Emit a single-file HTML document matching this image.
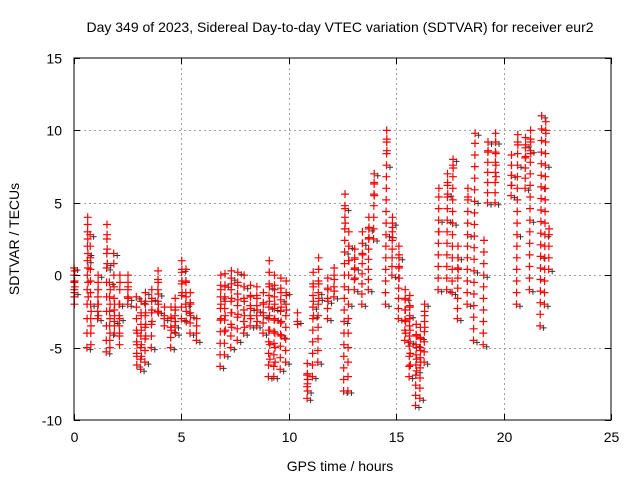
<!DOCTYPE html>
<html><head><meta charset="utf-8"><style>
body{margin:0;background:#fff}
svg text{font-family:"Liberation Sans",sans-serif;font-size:14px;fill:#000}
</style></head><body>
<svg id="chart" width="640" height="480" xmlns="http://www.w3.org/2000/svg">
<g id="grid"></g>
<g id="pts"></g>
<rect x="74" y="58" width="537" height="362" fill="none" stroke="#000" stroke-width="1"/>
<g id="axes"></g>
<text x="340" y="32" text-anchor="middle">Day 349 of 2023, Sidereal Day-to-day VTEC variation (SDTVAR) for receiver eur2</text>
<text x="340" y="471" text-anchor="middle">GPS time / hours</text>
<text transform="translate(19,239) rotate(-90)" text-anchor="middle">SDTVAR / TECUs</text>
</svg>
<script>
const xTicks=[0,5,10,15,20,25];
const yTicks=[-10,-5,0,5,10,15];
const groupStart=[0.0,0.6,0.75,1.1,1.5,1.65,1.85,2.1,2.5,2.9,3.1,3.3,3.6,3.9,4.2,4.5,4.7,5.0,5.2,5.4,5.7,6.8,7.0,7.3,7.6,7.9,8.2,8.5,8.8,9.05,9.3,9.6,9.85,10.4,10.85,11.1,11.35,11.8,12.1,12.55,12.75,13.05,13.4,13.7,13.95,14.5,14.8,15.1,15.4,15.6,15.9,16.1,16.3,16.95,17.35,17.6,17.85,18.3,18.6,19.05,19.25,19.6,20.35,20.6,21.0,21.2,21.7,21.9,22.1,22.75];
const groupValues=[
[0.5,0,-0.5,-1,-1.5,-2,-1.2,-0.4,0.3,-0.8],
[-5,-4,-3,-2,-1,0,1,2,3,4,3.5,2.5,1.5,0.5,-0.5,-1.5],
[2.8,2,1.2,0.4,-0.4,-1.2,-2,-3,-4,-4.8,-3.5,-2.5],
[-3,-2.5,-2,-1.5,-1,-0.5,0,-1,-2,-2.8],
[-5.3,-4.5,-3.5,-2.5,-1.5,-0.5,0.5,1.5,2.5,3.5,2.8,1.8,0.8],
[-0.5,-1.5,-2.5,-3.5,-4.5,-5,-4,-3,-2,-1],
[1.5,0.8,0,-0.8,-1.6,-2.4,-3.2,-4,-3.5,-2.8,-2],
[-2,-2.8,-3.5,-4.2,-4.8,-4,-3,-2,-1,0,-0.5],
[-2,-1.5,-1,-0.5,0,-0.8,-1.6],
[-1.5,-2.2,-3,-3.8,-4.6,-5.4,-6.2,-5.6,-4.8,-4],
[-6.5,-5.8,-5,-4.2,-3.4,-2.6,-1.8,-2.8,-3.8,-4.8,-5.6],
[-6,-5.2,-4.4,-3.6,-2.8,-2,-1.2,-1.8,-2.6,-3.4,-4.2],
[-5,-4.2,-3.4,-2.6,-1.8,-1,-1.6,-2.4,-3.2],
[-2.5,-1.8,-1,-0.3,0.3,-0.5,-1.3,-2,-2.6],
[-3,-3.5,-2.8,-2.2],
[-5,-4.3,-3.6,-2.9,-2.2,-3,-3.8],
[-3.5,-2.8,-2.2,-1.6,-2.4,-3.2,-4],
[-3,-2.2,-1.4,-0.6,0.2,1,0.4,-0.4,-1.2],
[-2,-1.2,-0.4,0.4,-0.5,-1.5,-2.5,-3.2],
[-4,-3.3,-2.6,-1.9,-1.2,-2,-2.8],
[-4.5,-4,-3.5,-3],
[-6.3,-5.5,-4.7,-3.9,-3.1,-2.3,-1.5,-0.7,0,-1,-2,-3],
[-5.5,-4.7,-3.9,-3.1,-2.3,-1.5,-0.7,0.1,-0.8,-1.8,-2.8,-3.8],
[-5,-4.2,-3.4,-2.6,-1.8,-1,-0.2,0.3,-0.6,-1.6,-2.6,-3.6],
[-4.5,-3.7,-2.9,-2.1,-1.3,-0.5,0.2,-0.7,-1.7,-2.7],
[-4,-3.2,-2.4,-1.6,-0.8,0,-0.8,-1.8,-2.8,-3.6],
[-3.5,-2.8,-2.1,-1.4,-0.7,-1.5,-2.3,-3],
[-3.5,-2.8,-2.1,-1.4,-0.8,-1.6,-2.4,-3.2],
[-4,-3.3,-2.6,-1.9,-1.2,-2,-2.8],
[-7,-6.2,-5.4,-4.6,-3.8,-3,-2.2,-1.4,-0.6,0.2,1,0.2,-0.8,-1.8,-2.8,-3.8,-4.8,-5.8],
[-7,-6.3,-5.5,-4.7,-3.9,-3.1,-2.3,-1.5,-0.7,0,-1,-2,-3,-4,-5,-6],
[-6.5,-5.7,-4.9,-4.1,-3.3,-2.5,-1.7,-0.9,-0.2,-1.2,-2.2,-3.2,-4.2],
[-6,-5.2,-4.4,-3.6,-2.8,-2,-1.2,-0.4,-1.4,-2.4],
[-3.2,-2.6,-3.4],
[-8.5,-7.7,-6.9,-6.1,-6.8,-7.5,-8,-7.2],
[-7,-6.2,-5.4,-4.6,-3.8,-3,-2.2,-1.4,-0.6,0.2,-0.8,-1.8,-2.8],
[-6,-5.2,-4.4,-3.6,-2.8,-2,-1.2,-0.4,0.4,1.2,0.4,-0.6,-1.6],
[-3,-2.3,-1.6,-0.9,-0.2,-1,-1.8],
[-1.5,-0.8,0,0.5,-0.3,-1.1],
[-8,-7.2,-6.4,-5.6,-4.8,-4,-3.2,-2.4,-1.6,-0.8,0,0.8,1.6,2.4,3.2,4,4.8,5.6,4.6,3.6],
[-8,-7,-6,-5,-4,-3,-2,-1,0,1,2,3,2,1],
[-1,-0.3,0.4,1.1,1.8,1.2,0.5,-0.2],
[-2,-1.3,-0.6,0.1,0.8,1.5,2.2,3,2.2,1.4],
[-1,-0.3,0.4,1.1,1.8,2.5,3.2,4,3.3,2.6],
[2.5,3.2,4,4.8,5.6,6.4,7,6.3,5.5],
[-2,-1.2,-0.4,0.4,1.2,2,2.8,3.6,4.4,5.2,6,6.8,7.6,8.4,9.2,10,9.4,8.6],
[0,0.6,1.2,1.8,2.4,3,3.6,4,3.3,2.6],
[-3,-2.3,-1.6,-0.9,-0.2,0.5,1.2,2,1.4,0.6,-0.2],
[-4.5,-3.8,-3.1,-2.4,-1.7,-1,-1.6,-2.4,-3.2,-4],
[-7,-6.3,-5.6,-4.9,-4.2,-3.5,-2.8,-2.1,-1.4,-2.2,-3,-3.8,-4.6,-5.4,-6.2],
[-9,-8.3,-7.6,-6.9,-6.2,-5.5,-4.8,-4.1,-3.4,-4.2,-5,-5.8,-6.6],
[-8.5,-7.8,-7.1,-6.4,-5.7,-5,-4.3,-3.6,-4.4,-5.2,-6],
[-6,-5.3,-4.6,-3.9,-3.2,-2.5,-2,-2.8,-3.6],
[-1,-0.2,0.6,1.4,2.2,3,3.8,4.6,5.4,6,3],
[-1,-0.2,0.6,1.4,2.2,3,3.8,4.6,5.4,6.2,7,6.4,5.6],
[-1.2,-0.4,0.4,1.2,2,2.8,3.6,4.4,5.2,6,6.8,7.6,8,7.4],
[-3,-2.3,-1.6,-0.9,-0.2,0.5,1.2,2,1.2,0.4],
[-2,-1.2,-0.4,0.4,1.2,2,2.8,3.6,4.4,5.2,6,5.4],
[-4.5,-3.7,-2.9,-2.1,-1.3,-0.5,0.3,1.1,1.9,2.7,3.5,4.3,5.1,5.9,6.7,7.5,8.3,9.1,9.8],
[-4.8,-4,-3.2,-2.4,-1.6,-0.8,0,0.8,1.6,2.4],
[5,5.7,6.4,7.1,7.8,8.5,9.2,8.6],
[5,5.7,6.4,7.1,7.8,8.5,9.2,9.8,9.2,8.4,7.6,6.8],
[5.5,6.2,6.9,7.6,8.3,7.6,6.9,6.2],
[-2,-1.2,-0.4,0.4,1.2,2,2.8,3.6,4.4,5.2,6,6.8,7.6,8.4,9.2,9.7,9],
[6,6.7,7.4,8.1,8.8,9.5,9,8.2],
[-1,-0.2,0.6,1.4,2.2,3,3.8,4.6,5.4,6.2,7,7.8,8.6,9.4,10,9.2,8.4],
[-3.5,-2.7,-1.9,-1.1,-0.3,0.5,1.3,2.1,2.9,3.7,4.5,5.3,6.1,6.9,7.7,8.5,9.3,10.1,11],
[-2,-1.2,-0.4,0.4,1.2,2,2.8,3.6,4.4,5.2,6,6.8,7.6,8.4,9.2,10,10.6,9.8],
[0.4,1.2,2,2.8,3.2]
];
const X0=74,X1=611,Y0=420,Y1=58;
const xs=v=>X0+(v-0)/(25-0)*(X1-X0);
const ys=v=>Y0-(v+10)/(25)*(Y0-Y1);
const NS="http://www.w3.org/2000/svg";
const grid=document.getElementById('grid'),axes=document.getElementById('axes'),pts=document.getElementById('pts');
function mk(tag,attrs,parent){const e=document.createElementNS(NS,tag);for(const k in attrs)e.setAttribute(k,attrs[k]);parent.appendChild(e);return e;}
xTicks.forEach(t=>{const x=Math.round(xs(t))+0.5;
 if(t>0&&t<25){const g=mk('line',{x1:x,x2:x,y1:Y1,y2:Y0,stroke:'#a0a0a0','stroke-dasharray':'2,3'},grid);
 
 }
 const tk=mk('path',{d:`M${x},${Y0}v-6M${x},${Y1}v6`,stroke:'#000'},axes);
 
 
 const l=mk('text',{x:x,y:Y0+22,'text-anchor':'middle'},axes);l.textContent=t;
 
 });
yTicks.forEach(t=>{const y=Math.round(ys(t))+0.5;
 if(t>-10&&t<15){const g=mk('line',{x1:X0,x2:X1,y1:y,y2:y,stroke:'#a0a0a0','stroke-dasharray':'2,3'},grid);
 
 }
 const tk=mk('path',{d:`M${X0},${y}h6M${X1},${y}h-6`,stroke:'#000'},axes);
 
 
 const l=mk('text',{x:X0-12,y:y+5,'text-anchor':'end'},axes);l.textContent=t;
 
 });
let dBlack='',dRed='';
const nGroups=Math.min(groupStart.length,groupValues.length);
for(let g=0;g<nGroups;g++){const t0=groupStart[g];const vals=groupValues[g]||[];
 vals.forEach((v,i)=>{
 const x=xs(t0+i*0.004),y=ys(v);
 dRed+=`M${(x-4).toFixed(1)},${y.toFixed(1)}h8M${x.toFixed(1)},${(y-4).toFixed(1)}v8`;
 if(i%6===0)dBlack+=`M${(x+0.5).toFixed(1)},${(y+2).toFixed(1)}h6M${(x+3.5).toFixed(1)},${(y-1).toFixed(1)}v6`;
});}
const pb=mk('path',{d:dBlack,stroke:'#333',fill:'none','stroke-width':1},pts);


const pr=mk('path',{d:dRed,stroke:'#ff0000',fill:'none','stroke-width':1.2},pts);


</script>
</body></html>
